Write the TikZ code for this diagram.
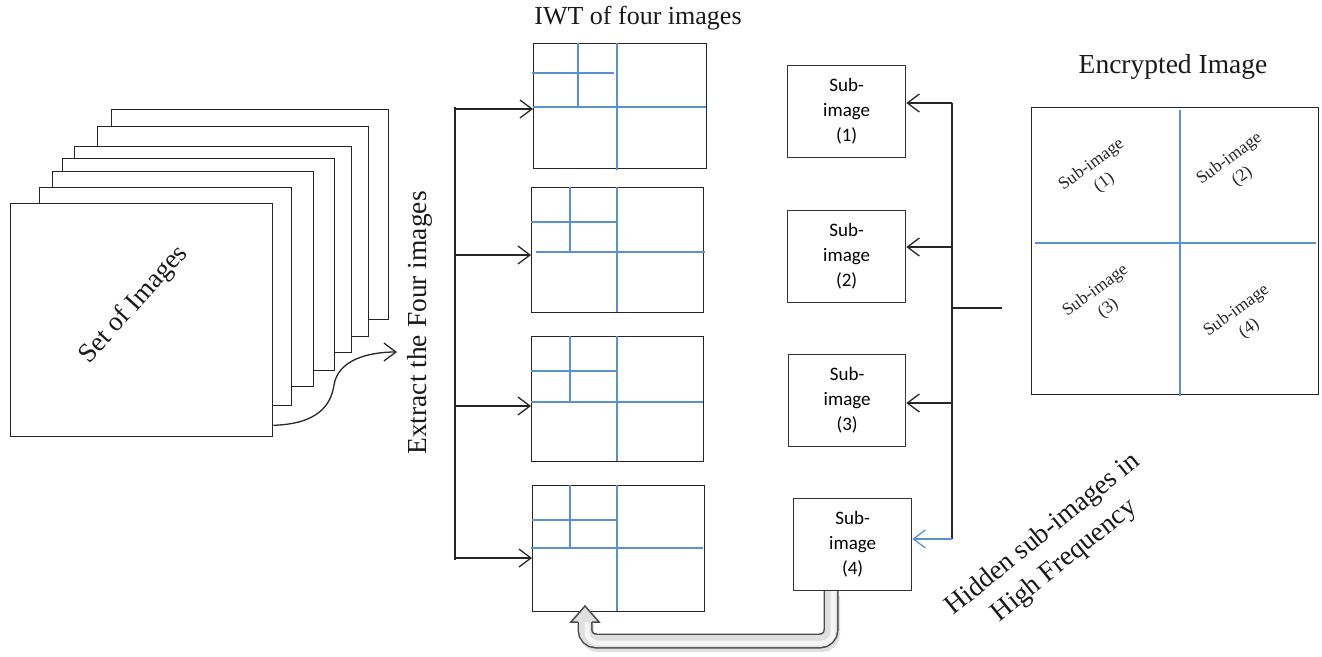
\documentclass[tikz,border=0pt]{standalone}
\usepackage{fontspec}
\setmainfont{Liberation Serif}
\newfontfamily\calib{Carlito}
\usetikzlibrary{arrows.meta,calc}
\definecolor{wblue}{HTML}{5B8FD6}
\tikzset{
 sheet/.style={draw=black!85, line width=1.3pt, fill=white, inner sep=0pt, anchor=north west},
 wbox/.style={draw=black!85, line width=1.4pt, inner sep=0pt, anchor=north west},
 subbox/.style={draw=black!80, line width=1.3pt, inner sep=0pt, anchor=north west, align=center, font=\calib\fontsize{19}{25}\selectfont},
 bigtxt/.style={font=\fontsize{26}{33}\selectfont, inner sep=0pt, align=center, text=black!90},
 quad/.style={font=\fontsize{17.5}{22}\selectfont, inner sep=0pt, align=center, rotate=36, text=black!85},
 bl/.style={draw=wblue, line width=1.3pt},
 conn/.style={draw=black!85, line width=1.3pt},
 arr/.style={conn, -{Straight Barb[length=12pt,width=18pt]}},
}
\begin{document}
\begin{tikzpicture}[x=1pt,y=-1pt]
\useasboundingbox (0,0) rectangle (1322,656);

% stack of images
\node[sheet, minimum width=277pt, minimum height=210pt] (L6) at (111,109) {};
\node[sheet, minimum width=271pt, minimum height=210pt] (L5) at (97,126) {};
\node[sheet, minimum width=277pt, minimum height=206pt] (L4) at (74,146) {};
\node[sheet, minimum width=272pt, minimum height=212pt] (L3) at (62,158) {};
\node[sheet, minimum width=261pt, minimum height=215pt] (L2) at (52,171) {};
\node[sheet, minimum width=252pt, minimum height=218pt] (L1) at (39,187) {};
\node[sheet, minimum width=262pt, minimum height=233pt] (F) at (10,203) {};
\node[bigtxt, rotate=48, font=\fontsize{27}{33}\selectfont] (setimg) at (134,305) {Set of Images};

% extract label and curved arrow
\node[bigtxt, rotate=90, font=\fontsize{27.5}{33}\selectfont] (ext) at (420,323) {Extract the Four images};
\coordinate (extin) at (397,352);
\draw[arr] ([yshift=12pt]F.south east) .. controls (318,424) and (331,405) .. (334,385)
  .. controls (338,360) and (368,352) .. (extin);

% left trunk
\coordinate (trT) at (455,107);
\coordinate (trB) at (455,560);
\draw[conn] (trT) -- (trB);
\coordinate (b1) at (455,109);
\coordinate (b2) at (455,255);
\coordinate (b3) at (455,406);
\coordinate (b4) at (455,558);

% IWT boxes
\node[bigtxt] (iwt) at (638,18) {IWT of four images};
\node[wbox, minimum width=173pt, minimum height=125pt] (W1) at (533,43) {};
\node[wbox, minimum width=172pt, minimum height=125pt] (W2) at (531,187) {};
\node[wbox, minimum width=172pt, minimum height=125pt] (W3) at (531,336) {};
\node[wbox, minimum width=172pt, minimum height=126pt] (W4) at (532,485) {};

% blue sub-band lines
\draw[bl] (617,43) -- (617,170);
\draw[bl] (533,107) -- (706,107);
\draw[bl] (578,43) -- (578,107);
\draw[bl] (532,73) -- (614,73);

\draw[bl] (617,187) -- (617,312);
\draw[bl] (536,252) -- (705,252);
\draw[bl] (570,187) -- (570,252);
\draw[bl] (531,222) -- (616,222);

\draw[bl] (617,336) -- (617,461);
\draw[bl] (531,402) -- (703,402);
\draw[bl] (570,336) -- (570,402);
\draw[bl] (531,371) -- (616,371);

\draw[bl] (617,485) -- (617,611);
\draw[bl] (531,548) -- (703,548);
\draw[bl] (570,485) -- (570,548);
\draw[bl] (532,520) -- (616,520);

\draw[arr] (b1) -- (b1 -| W1.west);
\draw[arr] (b2) -- (b2 -| W2.west);
\draw[arr] (b3) -- (b3 -| W3.west);
\draw[arr] (b4) -- (b4 -| W4.west);

% sub-image boxes
\node[subbox, minimum width=118pt, minimum height=92pt] (S1) at (787,65) {Sub-\\image\\(1)};
\node[subbox, minimum width=118pt, minimum height=92pt] (S2) at (787,210) {Sub-\\image\\(2)};
\node[subbox, minimum width=117pt, minimum height=92pt] (S3) at (788,354) {Sub-\\image\\(3)};
\node[subbox, minimum width=118pt, minimum height=92pt] (S4) at (793,498) {Sub-\\image\\(4)};

% right trunk
\coordinate (rT) at (952,103);
\coordinate (r2) at (952,247);
\coordinate (r3) at (952,403);
\coordinate (rB) at (952,539);
\coordinate (rin) at (952,308);
\coordinate (rend) at (1002,308);
\draw[conn] (rT) -- (rB);
\draw[arr] (rT) -- (rT -| S1.east);
\draw[arr] (r2) -- (r2 -| S2.east);
\draw[arr] (r3) -- (r3 -| S3.east);
\draw[arr, draw=wblue] (rB) -- (rB -| S4.east);

% encrypted image
\node[bigtxt, font=\fontsize{27.5}{33}\selectfont] (enct) at (1173,67) {Encrypted Image};
\node[wbox, minimum width=287pt, minimum height=287pt] (E) at (1031,107) {};
\draw[bl] (1180,110) -- (1180,396);
\draw[bl] (1035,243) -- (1316,243);
\draw[conn] (rin) -- (rend);
\node[quad] (q1) at (1098,174) {Sub-image\\(1)};
\node[quad] (q2) at (1236,168) {Sub-image\\(2)};
\node[quad] (q3) at (1102,300) {Sub-image\\(3)};
\node[quad] (q4) at (1243,320) {Sub-image\\(4)};

% hidden label
\node[bigtxt, rotate=39, font=\fontsize{27.5}{34}\selectfont] (hid) at (1054,548) {Hidden sub-images in\\High Frequency};

% gray block arrow
\coordinate (ga) at (831,591);
\coordinate (gt) at (585,606);
\draw[line width=14pt, black!12, rounded corners=11pt] (833,596) -- (833,645) -- (587,645) -- (587,624);
\draw[line width=15pt, black!70, rounded corners=11pt] (ga) -- (831,641) -- (585,641) -- (585,621);
\draw[line width=12pt, gray!25, rounded corners=11pt] (ga) -- (831,641) -- (585,641) -- (585,621);
\draw[line width=5pt, gray!8, rounded corners=11pt] (833,591) -- (833,643) -- (587,643) -- (587,621);
\filldraw[fill=gray!25, draw=black!70, line width=1.5pt, line join=miter]
  (578.2,622) -- (571,622) -- (gt) -- (599,622) -- (591.8,622);
\end{tikzpicture}
\end{document}
